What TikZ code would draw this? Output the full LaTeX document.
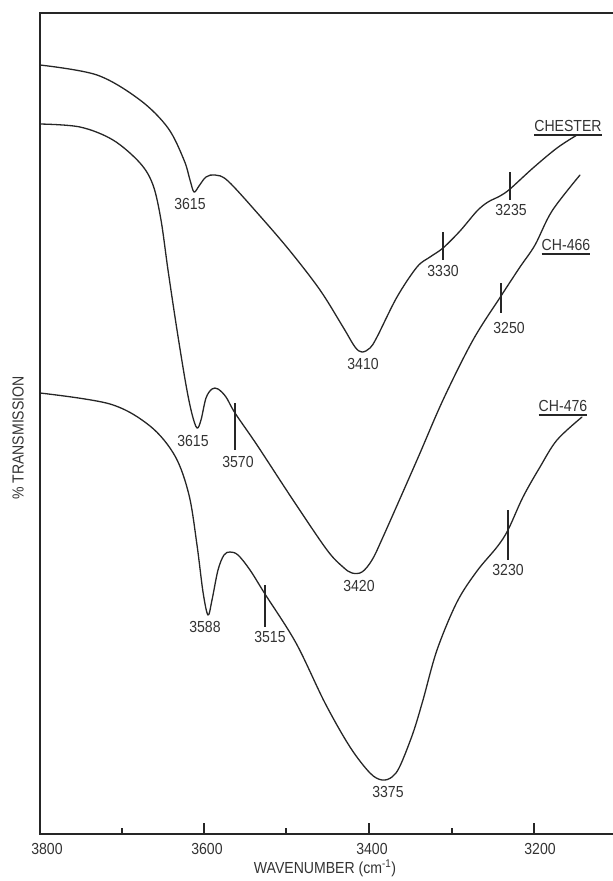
\documentclass[tikz,border=0pt]{standalone}
\usepackage{fontspec}
\setmainfont[FakeStretch=0.88]{Liberation Sans}
\begin{document}
\begin{tikzpicture}[x=1pt,y=-1pt,
  curve/.style={line width=1.3pt, line join=round, line cap=round, draw=black!85},
  framelines/.style={line width=1.5pt, draw=black!85},
  tickln/.style={line width=1.1pt, draw=black!85},
  lbl/.style={font=\fontsize{16}{16}\selectfont, inner sep=0pt, text=black!80},
  axlbl/.style={font=\fontsize{16}{16}\selectfont, inner sep=0pt, text=black!80},
  uline/.style={line width=1.3pt, draw=black!85}]
\useasboundingbox (0,0) rectangle (613,881);
% frame
\coordinate (tl) at (40,13);
\coordinate (tr) at (613,13);
\coordinate (bl) at (40,834);
\coordinate (br) at (613,834);
\draw[framelines] (tr) -- (tl) -- (bl) -- (br);
% axis ticks
\foreach \x in {204,369,534} \draw[tickln] (\x,834) -- ++(0,-11);
\foreach \x in {122,286,452} \draw[tickln] (\x,834) -- ++(0,-6);
\node[lbl] (t3800) at (47,849) {3800};
\node[lbl] (t3600) at (207,849) {3600};
\node[lbl] (t3400) at (372,849) {3400};
\node[lbl] (t3200) at (540,849) {3200};
\node[axlbl] (xlab) at (325,868) {WAVENUMBER (cm\textsuperscript{-1})};
\node[axlbl, rotate=90] (ylab) at (18,438) {\% TRANSMISSION};
% CHESTER curve
\draw[curve] plot[smooth, tension=0.55] coordinates {
 (40,65) (97,75) (140,100) (168,128) (184,160) (190,180) (194,192)
 (199,186) (206,177) (215,175) (228,181) (260,216) (290,251) (320,290) (343,327)
 (355,347) (362,352) (370,348) (377,337) (397,297) (417,267) (430,257) (443,248)
 (460,231) (477,211) (488,202) (500,196) (510,189) (533,168) (557,148) (577,135)};
% CH-466 curve
\draw[curve] plot[smooth, tension=0.55] coordinates {
 (40,124) (80,127) (113,140) (140,163) (153,185) (161,220) (168,270) (177,330)
 (186,385) (192,414) (197,428) (201,420) (206,398) (212,389) (218,389) (226,397) (235,413)
 (257,445) (293,500) (327,550) (343,567) (352,573) (362,572) (372,560) (383,537) (417,460)
 (443,400) (473,340) (501,296) (520,267) (535,245) (552,211) (580,175)};
% CH-476 curve
\draw[curve] plot[smooth, tension=0.55] coordinates {
 (40,393) (110,404) (150,426) (175,456) (189,495) (197,545) (203,592) (208,615)
 (212,600) (218,570) (224,555) (230,552) (238,555) (250,570) (265,594) (296,643) (325,703)
 (350,747) (370,773) (382,780) (392,777) (400,766) (413,733) (423,700) (437,650) (457,602)
 (477,571) (497,547) (508,530) (523,497) (540,467) (557,440) (582,417)};
% band marks on curves
\draw[tickln] (443,232) -- (443,260);
\draw[tickln] (510,172) -- (510,200);
\draw[tickln] (235,403) -- (235,450);
\draw[tickln] (501,283) -- (501,313);
\draw[tickln] (265,585) -- (265,627);
\draw[tickln] (508,510) -- (508,560);
% labels
\node[lbl] (a3615) at (190,204) {3615};
\node[lbl] (a3410) at (363,364) {3410};
\node[lbl] (a3330) at (443,271) {3330};
\node[lbl] (a3235) at (511,210) {3235};
\node[lbl] (b3615) at (193,441) {3615};
\node[lbl] (b3570) at (238,462) {3570};
\node[lbl] (b3420) at (359,586) {3420};
\node[lbl] (b3250) at (509,328) {3250};
\node[lbl] (c3588) at (205,627) {3588};
\node[lbl] (c3515) at (270,637) {3515};
\node[lbl] (c3375) at (388,792) {3375};
\node[lbl] (c3230) at (508,570) {3230};
\node[lbl] (nChester) at (568,126) {CHESTER};
\node[lbl] (n466) at (566,245) {CH-466};
\node[lbl] (n476) at (563,406) {CH-476};
\foreach \n in {nChester,n466,n476}
  \draw[uline] ([yshift=-3pt]\n.south west) -- ([yshift=-3pt]\n.south east);
\end{tikzpicture}
\end{document}
